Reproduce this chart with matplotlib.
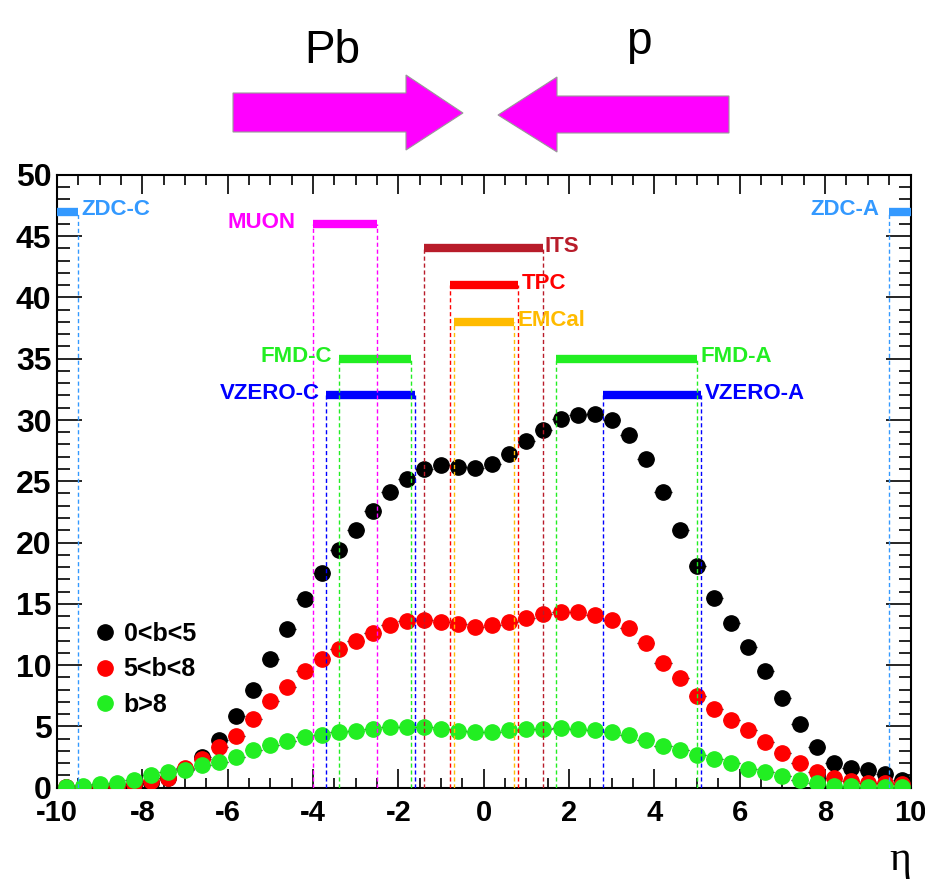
import numpy as np
import matplotlib
matplotlib.use("Agg")
import matplotlib.pyplot as plt
from matplotlib.patches import Polygon
from matplotlib.lines import Line2D
from matplotlib.ticker import MultipleLocator
from matplotlib.transforms import ScaledTranslation

plt.rcParams['font.family'] = ['Liberation Sans', 'DejaVu Sans']
plt.rcParams['font.weight'] = 'bold'
plt.rcParams['axes.unicode_minus'] = False

# eta bin centres (bin width 0.4)
eta = np.linspace(-9.8, 9.8, 50)

# dN/deta, one value per bin
central = [0.05, 0.05, 0.05, 0.1, 0.1, 0.35, 0.75, 1.5, 2.5, 3.9,
           5.8, 8.0, 10.5, 12.9, 15.4, 17.5, 19.4, 21.0, 22.6, 24.1,
           25.2, 26.0, 26.3, 26.2, 26.1,
           26.4, 27.2, 28.3, 29.2, 30.1, 30.4, 30.5, 30.0, 28.8, 26.8,
           24.1, 21.0, 18.1, 15.5, 13.4, 11.5, 9.5, 7.3, 5.2, 3.3,
           2.0, 1.6, 1.4, 1.1, 0.6]
mid = [0.05, 0.0, 0.1, 0.05, 0.3, 0.5, 0.8, 1.6, 2.3, 3.3,
       4.2, 5.6, 7.1, 8.2, 9.5, 10.5, 11.3, 12.0, 12.6, 13.3,
       13.6, 13.7, 13.5, 13.35, 13.1,
       13.3, 13.5, 13.8, 14.2, 14.3, 14.3, 14.1, 13.7, 13.0, 11.8,
       10.2, 8.9, 7.5, 6.4, 5.5, 4.7, 3.7, 2.8, 2.0, 1.3,
       0.75, 0.5, 0.4, 0.4, 0.25]
periph = [0.05, 0.1, 0.3, 0.4, 0.6, 1.0, 1.3, 1.4, 1.8, 2.1,
          2.5, 3.1, 3.5, 3.8, 4.15, 4.3, 4.5, 4.6, 4.8, 4.9,
          4.9, 4.9, 4.8, 4.65, 4.5,
          4.55, 4.7, 4.8, 4.8, 4.85, 4.8, 4.7, 4.55, 4.3, 3.9,
          3.4, 3.05, 2.65, 2.3, 2.0, 1.55, 1.3, 0.95, 0.6, 0.35,
          0.15, 0.1, 0.05, 0.05, 0.05]
series_labels = ['0<b<5', '5<b<8', 'b>8']
series_colors = ['black', '#ff0000', '#22ee22']

# detector acceptances
det_names = ['ZDC-C', 'ZDC-A', 'MUON', 'ITS', 'TPC', 'EMCal',
             'FMD-C', 'FMD-A', 'VZERO-C', 'VZERO-A']
det_lo = [-10, 9.5, -4.0, -1.4, -0.8, -0.7, -3.4, 1.7, -3.7, 2.8]
det_hi = [-9.5, 10, -2.5, 1.4, 0.8, 0.7, -1.7, 5.0, -1.6, 5.1]
det_level = [47, 47, 46, 44, 41, 38, 35, 35, 32, 32]
det_colors = ['#3399ff', '#3399ff', '#ff00ff', '#b81c2a', '#ff0000',
              '#ffbb00', '#22ee22', '#22ee22', '#0000ff', '#0000ff']
det_side = ['right', 'left', 'left', 'right', 'right', 'right',
            'left', 'right', 'left', 'right']
det_gap = [0.08, 0.22, 0.4, 0.02, 0.1, 0.1, 0.15, 0.07, 0.15, 0.08]

W, H = 925, 880
fig = plt.figure(figsize=(W / 100, H / 100), dpi=100)
ax = fig.add_axes([57 / W, 92.5 / H, 853.5 / W, 612.5 / H])

# detector bars + dashed acceptance edges
for name, lo, hi, lev, c, side, gap in zip(det_names, det_lo, det_hi, det_level,
                                            det_colors, det_side, det_gap):
    ax.hlines(lev, lo, hi, colors=c, lw=6, zorder=4, capstyle='butt')
    for edge in (lo, hi):
        if abs(edge) < 10:
            ax.vlines(edge, 0, lev, colors=c, lw=1, linestyles=(0, (3, 2)), zorder=5)
    if side == 'right':
        ax.text(hi + gap, lev + 0.15, name, color=c, fontsize=16,
                ha='left', va='center', zorder=6)
    else:
        ax.text(lo - gap, lev + 0.15, name, color=c, fontsize=16,
                ha='right', va='center', zorder=6)

# data points
for vals, c, z in zip([central, mid, periph], series_colors, [3, 3.1, 3.2]):
    ax.errorbar(eta, vals, xerr=0.2, fmt='o', color=c, mec=c, ms=11,
                ecolor='black', elinewidth=1, capsize=0, zorder=z)

ax.set_xlim(-10, 10)
ax.set_ylim(0, 50)
ax.xaxis.set_major_locator(MultipleLocator(2))
ax.xaxis.set_minor_locator(MultipleLocator(0.5))
ax.yaxis.set_major_locator(MultipleLocator(5))
ax.yaxis.set_minor_locator(MultipleLocator(1))
ax.tick_params(axis='both', which='both', direction='in', top=True, right=True)
ax.tick_params(axis='y', which='major', length=18, width=1.2, pad=4, labelsize=23)
ax.tick_params(axis='y', which='minor', length=9, width=1.2)
ax.tick_params(axis='x', which='major', length=14, width=1.2, pad=8, labelsize=21)
ax.tick_params(axis='x', which='minor', length=7, width=1.2)
for sp in ax.spines.values():
    sp.set_linewidth(1.5)

# nudge the corner labels so they stay inside the picture and apart
fig.canvas.draw()
xl = ax.get_xticklabels()
xl[-1].set_transform(xl[-1].get_transform() + ScaledTranslation(-6 / 72, 0, fig.dpi_scale_trans))
xl[0].set_transform(xl[0].get_transform() + ScaledTranslation(2 / 72, -1 / 72, fig.dpi_scale_trans))
yl = ax.get_yticklabels()
yl[0].set_transform(yl[0].get_transform() + ScaledTranslation(0, 4 / 72, fig.dpi_scale_trans))

handles = [Line2D([], [], ls='none', marker='o', ms=11, color=c) for c in series_colors]
ax.legend(handles, series_labels, loc='center left', bbox_to_anchor=(0.0416, 0.193),
          frameon=False, fontsize=18, borderpad=0, borderaxespad=0,
          handlelength=1.0, handletextpad=0.25, labelspacing=0.45)

fig.text(900 / W, 1 - 860 / H, 'η', fontsize=30, family='Liberation Serif',
         fontweight='normal', ha='center', va='center')


# beam arrows above the frame (pixel outline -> figure fraction)
def to_fig(pts):
    return [(x / W, 1 - y / H) for x, y in pts]


pb_arrow = [(233, 93), (406, 93), (406, 75), (463, 113), (406, 150), (406, 132), (233, 132)]
p_arrow = [(498, 115), (557, 77), (557, 96), (729, 96), (729, 133), (557, 133), (557, 152)]
for pts in (pb_arrow, p_arrow):
    fig.add_artist(Polygon(to_fig(pts), closed=True, transform=fig.transFigure,
                           facecolor='#ff00ff', edgecolor='#999999', lw=0.8))

fig.text(332 / W, 1 - 63 / H, 'Pb', fontsize=33, fontweight='normal',
         ha='center', va='baseline')
fig.text(639 / W, 1 - 54 / H, 'p', fontsize=33, fontweight='normal',
         ha='center', va='baseline')

fig.savefig('out.png', dpi=100)
